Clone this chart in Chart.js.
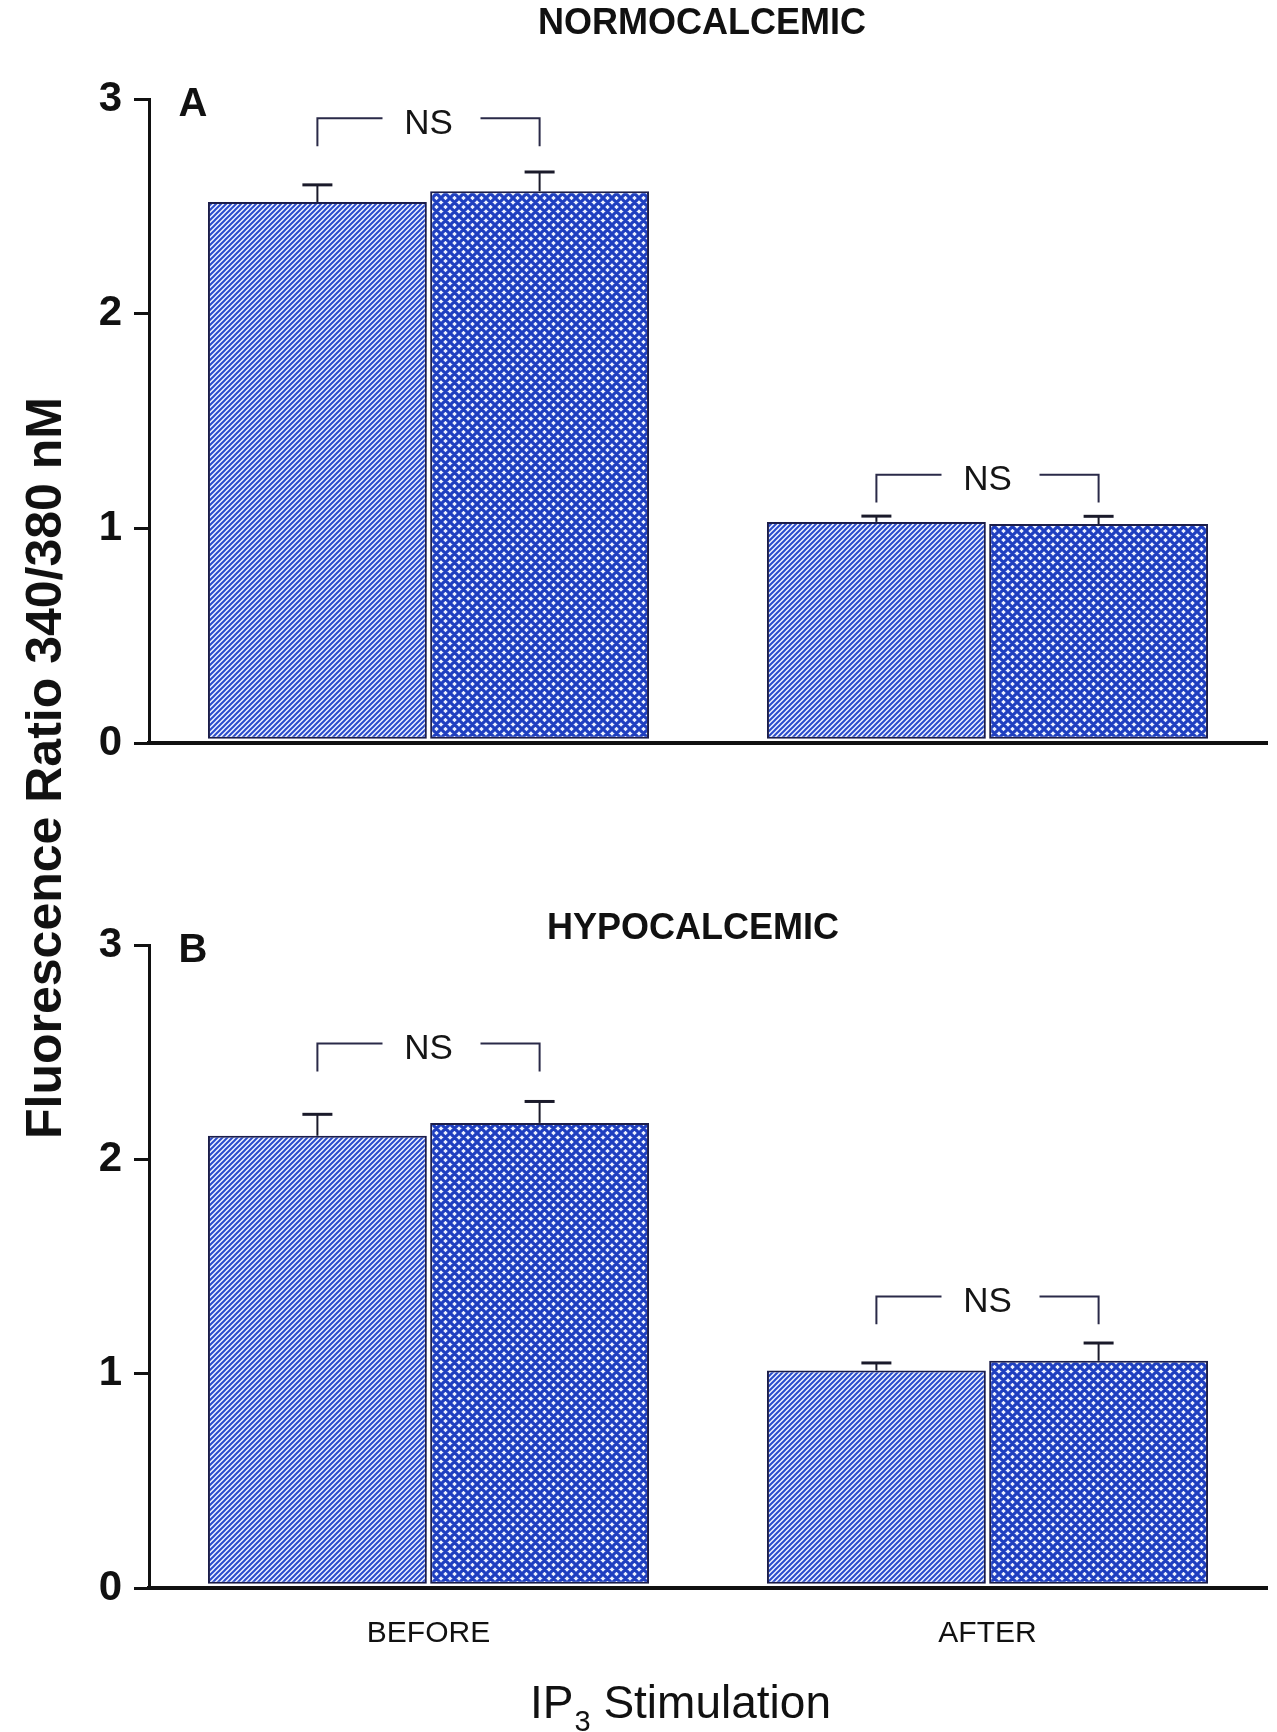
<!DOCTYPE html>
<html lang="en">
<head>
<meta charset="UTF-8">
<title>Fluorescence ratio before and after IP3 stimulation</title>
<script src="https://cdn.jsdelivr.net/npm/chart.js@4.4.0/dist/chart.umd.min.js"></script>
<style>
  body { margin: 0; background: #fff; }
  #wrap { position: relative; width: 1277px; height: 1732px; font-family: "Liberation Sans", Arial, sans-serif; }
  .panel { position: absolute; left: 0; width: 1277px; }
  #panelA { top: 0; height: 800px; }
  #panelB { top: 800px; height: 932px; }
  #yTitle {
    position: absolute; left: 44px; top: 768px;
    transform: translate(-50%, -50%) rotate(-90deg);
    white-space: nowrap; font-weight: bold; font-size: 50px; color: #111;
  }
</style>
</head>
<body>
<div id="wrap">
  <div class="panel" id="panelA"><canvas id="chartA"></canvas></div>
  <div class="panel" id="panelB"><canvas id="chartB"></canvas></div>
  <div id="yTitle">Fluorescence Ratio 340/380 nM</div>
</div>

<script>
// categories + tick values
const categories = ['BEFORE', 'AFTER'];
const yTickValues = [0, 1, 2, 3];

// panel A - normocalcemic
const normoHatched = [2.52, 1.03];
const normoCross = [2.57, 1.02];
const normoHatchedErr = [0.08, 0.027];
const normoCrossErr = [0.09, 0.036];
const normoNsLevel = [2.91, 1.25];

// panel B - hypocalcemic
const hypoHatched = [2.11, 1.015];
const hypoCross = [2.17, 1.06];
const hypoHatchedErr = [0.10, 0.035];
const hypoCrossErr = [0.10, 0.083];
const hypoNsLevel = [2.54, 1.36];

const FONT = '"Liberation Sans", Arial, sans-serif';

// hatch fills
function hatchPattern(ctx) {
  const s = 5;
  const c = document.createElement('canvas');
  c.width = s; c.height = s;
  const g = c.getContext('2d');
  g.fillStyle = '#eef2ff';
  g.fillRect(0, 0, s, s);
  g.strokeStyle = '#2a4ccc';
  g.lineWidth = 2;
  g.beginPath();
  g.moveTo(-1, s + 1); g.lineTo(s + 1, -1);
  g.moveTo(-1, 1); g.lineTo(1, -1);
  g.moveTo(s - 1, s + 1); g.lineTo(s + 1, s - 1);
  g.stroke();
  return ctx.createPattern(c, 'repeat');
}

function crossPattern(ctx) {
  const s = 9;
  const c = document.createElement('canvas');
  c.width = s; c.height = s;
  const g = c.getContext('2d');
  g.fillStyle = '#eef3ff';
  g.fillRect(0, 0, s, s);
  g.strokeStyle = '#1f3fc0';
  g.lineWidth = 3.2;
  g.beginPath();
  g.moveTo(-1, s + 1); g.lineTo(s + 1, -1);
  g.moveTo(-1, 1); g.lineTo(1, -1);
  g.moveTo(s - 1, s + 1); g.lineTo(s + 1, s - 1);
  g.moveTo(-1, -1); g.lineTo(s + 1, s + 1);
  g.moveTo(s - 1, -1); g.lineTo(s + 1, 1);
  g.moveTo(-1, s - 1); g.lineTo(1, s + 1);
  g.stroke();
  return ctx.createPattern(c, 'repeat');
}

// error bars, NS brackets, titles
const decorPlugin = {
  id: 'decor',
  afterDatasetsDraw(chart, args, opts) {
    const ctx = chart.ctx;
    const y = chart.scales.y;
    const x = chart.scales.x;
    ctx.save();

    // upper error bars
    [opts.err1, opts.err2].forEach((errs, di) => {
      const meta = chart.getDatasetMeta(di);
      meta.data.forEach((bar, i) => {
        const v = chart.data.datasets[di].data[i];
        const top = y.getPixelForValue(v + errs[i]);
        ctx.strokeStyle = '#1a1a2a';
        ctx.lineWidth = 2;
        ctx.beginPath();
        ctx.moveTo(bar.x, bar.y);
        ctx.lineTo(bar.x, top);
        ctx.stroke();
        ctx.lineWidth = 3;
        ctx.beginPath();
        ctx.moveTo(bar.x - 15, top);
        ctx.lineTo(bar.x + 15, top);
        ctx.stroke();
      });
    });

    // NS brackets
    const m0 = chart.getDatasetMeta(0), m1 = chart.getDatasetMeta(1);
    opts.nsLevel.forEach((lvl, i) => {
      const xl = m0.data[i].x, xr = m1.data[i].x;
      const xc = x.getPixelForValue(i);
      const yl = y.getPixelForValue(lvl);
      const yb = y.getPixelForValue(lvl - 0.13);
      ctx.strokeStyle = '#2a2a48';
      ctx.lineWidth = 2;
      ctx.beginPath();
      ctx.moveTo(xl, yb); ctx.lineTo(xl, yl); ctx.lineTo(xc - 46, yl);
      ctx.moveTo(xc + 52, yl); ctx.lineTo(xr, yl); ctx.lineTo(xr, yb);
      ctx.stroke();
      ctx.fillStyle = '#151515';
      ctx.font = '35px ' + FONT;
      ctx.textAlign = 'center';
      ctx.textBaseline = 'middle';
      ctx.fillText('NS', xc, yl + 6);
    });

    // panel title and letter
    ctx.fillStyle = '#111';
    ctx.font = 'bold 36px ' + FONT;
    ctx.textAlign = 'center';
    ctx.textBaseline = 'middle';
    ctx.fillText(opts.title, opts.titleX, opts.titleY);
    ctx.font = 'bold 40px ' + FONT;
    ctx.fillText(opts.letter, 193, chart.chartArea.top + 6);

    // x axis title (IP3 with subscript)
    if (opts.axisTitle) {
      ctx.font = '46px ' + FONT;
      ctx.textAlign = 'left';
      ctx.textBaseline = 'alphabetic';
      const w1 = ctx.measureText('IP').width;
      ctx.font = '29px ' + FONT;
      const w2 = ctx.measureText('3').width;
      ctx.font = '46px ' + FONT;
      const w3 = ctx.measureText(' Stimulation').width;
      const x0 = 680 - (w1 + w2 + w3) / 2;
      const base = 918;
      ctx.fillText('IP', x0, base);
      ctx.font = '29px ' + FONT;
      ctx.fillText('3', x0 + w1 + 1, base + 13);
      ctx.font = '46px ' + FONT;
      ctx.fillText(' Stimulation', x0 + w1 + w2 + 1, base);
    }
    ctx.restore();
  }
};

function buildPanel(canvasId, s1, s2, padTop, xHeight, showLabels, decor) {
  const ctx = document.getElementById(canvasId).getContext('2d');
  const common = {
    borderColor: '#1b1d4a',
    borderWidth: 2,
    borderSkipped: false,
    base: 0.02,
    categoryPercentage: 0.795,
    barPercentage: 0.985
  };
  return new Chart(ctx, {
    type: 'bar',
    data: {
      labels: categories,
      datasets: [
        Object.assign({ label: 'hatched', data: s1, backgroundColor: hatchPattern(ctx) }, common),
        Object.assign({ label: 'crosshatched', data: s2, backgroundColor: crossPattern(ctx) }, common)
      ]
    },
    options: {
      responsive: true,
      maintainAspectRatio: false,
      animation: false,
      layout: { padding: { top: padTop, right: 10, left: 0, bottom: 0 } },
      plugins: {
        legend: { display: false },
        tooltip: { enabled: false },
        decor: decor
      },
      scales: {
        x: {
          offset: true,
          afterFit: s => { s.height = xHeight; },
          grid: { display: false },
          border: { display: true, color: '#111', width: 4 },
          ticks: {
            display: showLabels,
            color: '#111',
            padding: 20,
            font: { family: FONT, size: 30 }
          }
        },
        y: {
          min: 0,
          max: 3,
          afterFit: s => { s.width = 149; },
          afterBuildTicks: s => { s.ticks = yTickValues.map(v => ({ value: v })); },
          grid: { drawOnChartArea: false, drawTicks: true, tickLength: 15, lineWidth: 3, color: '#111' },
          border: { display: true, color: '#111', width: 3 },
          ticks: {
            color: '#111',
            padding: 12,
            font: { family: FONT, size: 42, weight: 'bold' }
          }
        }
      }
    },
    plugins: [decorPlugin]
  });
}

buildPanel('chartA', normoHatched, normoCross, 99, 57, false, {
  title: 'NORMOCALCEMIC', titleX: 702, titleY: 24, letter: 'A',
  err1: normoHatchedErr, err2: normoCrossErr, nsLevel: normoNsLevel, axisTitle: false
});

buildPanel('chartB', hypoHatched, hypoCross, 145, 144, true, {
  title: 'HYPOCALCEMIC', titleX: 693, titleY: 129, letter: 'B',
  err1: hypoHatchedErr, err2: hypoCrossErr, nsLevel: hypoNsLevel, axisTitle: true
});
</script>
</body>
</html>
